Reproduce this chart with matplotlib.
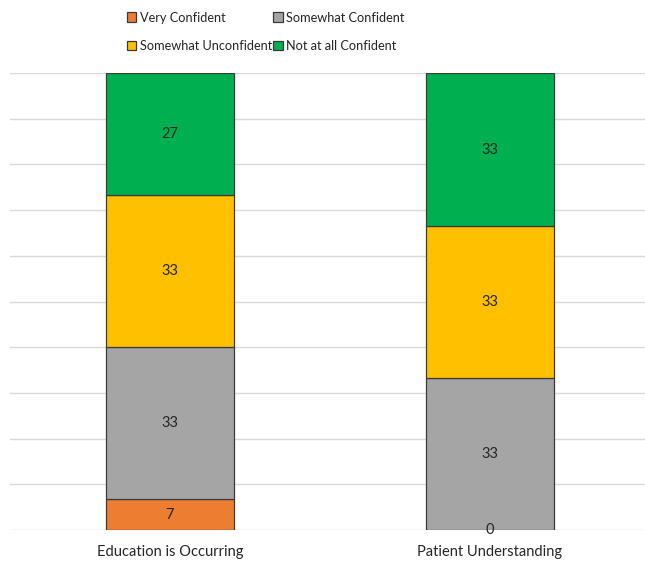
import numpy as np
import matplotlib
matplotlib.use('Agg')
import matplotlib.pyplot as plt

# Survey confidence, percent of respondents per category
categories = ['Education is Occurring', 'Patient Understanding']
series_names = ['Very Confident', 'Somewhat Confident', 'Somewhat Unconfident', 'Not at all Confident']
very_confident = [6.7, 0.0]
somewhat_confident = [33.3, 33.3]
somewhat_unconfident = [33.3, 33.3]
not_confident = [26.7, 33.3]

colors = ['#ED7D31', '#A5A5A5', '#FFC000', '#00B050']
plt.rcParams['font.family'] = ['Lato', 'DejaVu Sans']

fig = plt.figure(figsize=(6.45, 5.61), dpi=100)
ax = fig.add_axes([10 / 645, 31 / 561, 640 / 645, 457 / 561])

x = np.arange(len(categories))
bottom = np.zeros(len(categories))
handles = []
for name, vals, col in zip(series_names,
                           [very_confident, somewhat_confident, somewhat_unconfident, not_confident],
                           colors):
    vals = np.array(vals)
    bars = ax.bar(x, vals, 0.4, bottom=bottom, color=col, edgecolor='#3a3a3a',
                  linewidth=0.9, label=name, zorder=3)
    handles.append(bars)
    for xi, b, v in zip(x, bottom, vals):
        ax.text(xi, b + v / 2, '{:.0f}'.format(v), ha='center', va='center',
                fontsize=10.5, color='#262626', zorder=4)
    bottom += vals

ax.set_xlim(-0.5, 1.5)
ax.set_ylim(0, 100)
ax.set_yticks(np.arange(0, 101, 10))
ax.yaxis.grid(True, color='#d9d9d9', linewidth=1, zorder=0)
ax.set_yticklabels([])
ax.tick_params(axis='y', length=0)
ax.tick_params(axis='x', length=0, pad=11, labelsize=10.5, labelcolor='#262626')
ax.set_xticks(x)
ax.set_xticklabels(categories)
for s in ax.spines.values():
    s.set_visible(False)

# legend fills column-wise, so reorder to read row-wise
order = [0, 2, 1, 3]
leg = fig.legend(handles=[handles[i] for i in order], loc='upper center',
                 bbox_to_anchor=(0.412, 1.0), ncol=2,
                 frameon=False, fontsize=9.2, handlelength=0.75, handleheight=0.75,
                 handletextpad=0.3, columnspacing=0.05, labelspacing=1.3)
for t in leg.get_texts():
    t.set_color('#262626')

fig.savefig('out.png', dpi=100)
